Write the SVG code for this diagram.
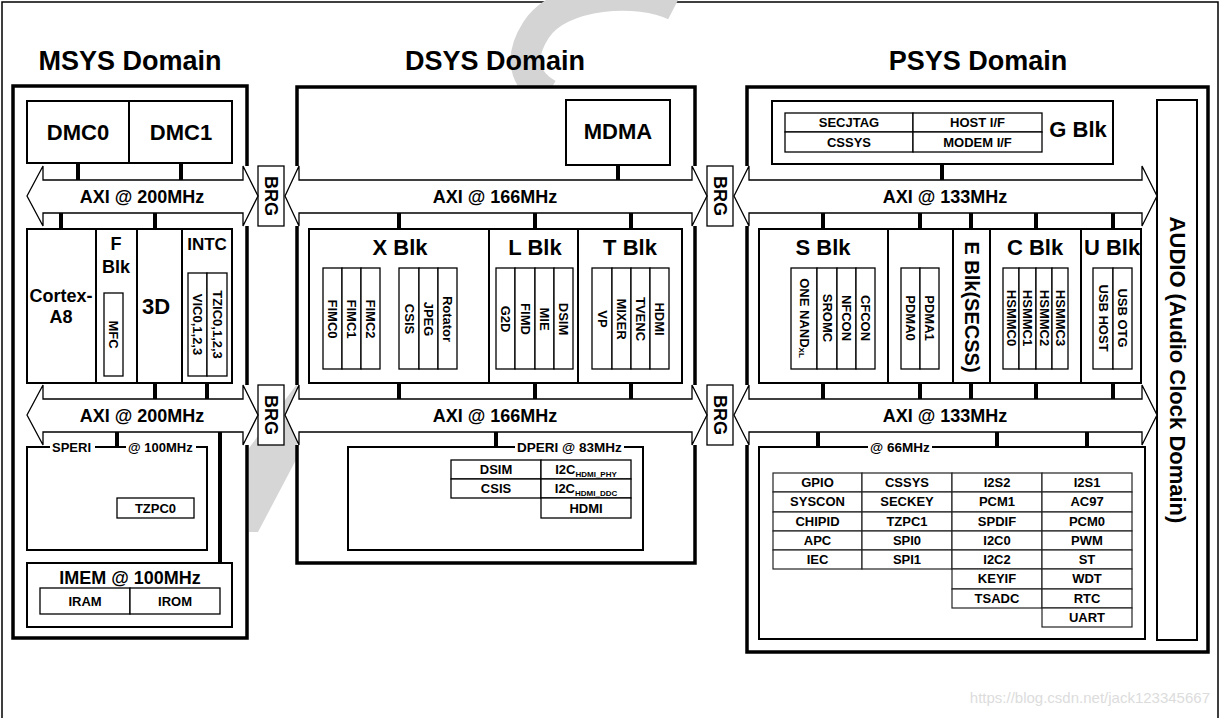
<svg xmlns="http://www.w3.org/2000/svg" width="1221" height="718" viewBox="0 0 1221 718">
<style>
.t{font-family:"Liberation Sans",Arial,sans-serif;font-weight:bold;fill:#000;text-anchor:middle}
.s27{font-size:27px}.s22{font-size:22px}.s20{font-size:20px}.s18{font-size:18px}.s17{font-size:17px}.s13{font-size:13px}.s135{font-size:13.5px}
.dom{fill:none;stroke:#000;stroke-width:3.5;stroke-linejoin:miter}
.domfill{fill:#fff;stroke:none}
.blk{fill:#fff;stroke:#000;stroke-width:2}
.sub{fill:#fff;stroke:#000;stroke-width:1.3}
.cell{fill:#fff;stroke:#222;stroke-width:1.2}
.bus{fill:#fff;stroke:#000;stroke-width:1.3;stroke-linejoin:miter}
.con{stroke:#000;stroke-width:4}
.lbl{text-anchor:start}
.gap{fill:#fff;stroke:none}
.v{dominant-baseline:central}
.wm{fill:#d6d6d6;stroke:none}
</style>
<rect x="0" y="0" width="1221" height="718" fill="#fff"/>
<!-- frame -->
<path d="M2,718 V2 H1218 V718" fill="none" stroke="#000" stroke-width="1.5"/>
<!-- watermark -->
<path d="M675,6 C640,-12 560,-8 536,30 C518,58 524,80 548,94" fill="none" stroke="#d4d4d4" stroke-width="30"/>
<polygon class="wm" points="249,448 297,384 297,458 258,532 249,532"/>
<text x="1210" y="703" font-family="Liberation Sans,Arial,sans-serif" font-size="15" fill="#dcdcdc" text-anchor="end">https://blog.csdn.net/jack123345667</text>

<!-- domain backgrounds -->
<rect class="domfill" x="13" y="86" width="234" height="552"/>
<rect class="domfill" x="297" y="87" width="398" height="476"/>
<rect class="domfill" x="747" y="87" width="461" height="565"/>

<!-- MSYS -->
<g id="msys">
<text class="t s27" x="130" y="70">MSYS Domain</text>
<path class="dom" d="M247,166 V86 H13 V638 H247 V445 M247,385 V226"/>
</g>
<g id="dmc">
<rect class="blk" x="27" y="101" width="205" height="62"/>
<line x1="129" y1="101" x2="129" y2="163" stroke="#000" stroke-width="2"/>
<text class="t s22" x="78" y="140">DMC0</text>
<text class="t s22" x="181" y="140">DMC1</text>
</g>
<g id="mcore">
<rect class="blk" x="27" y="229" width="205" height="154"/>
<path d="M96,229V383M137,229V383M182,229V383" stroke="#000" stroke-width="2"/>
<text class="t s18" x="61" y="302">Cortex-</text>
<text class="t s18" x="61" y="323">A8</text>
<text class="t s18" x="116" y="250">F</text>
<text class="t s18" x="116" y="273">Blk</text>
<rect class="sub" x="104" y="293" width="19" height="83"/>
<text class="t s13 v" transform="translate(113.5,334.5) rotate(90)">MFC</text>
<text class="t s22" x="156" y="314">3D</text>
<text class="t s17" x="207" y="250">INTC</text>
<rect class="sub" x="188" y="273" width="19" height="103"/>
<rect class="sub" x="207" y="273" width="20" height="103"/>
<text class="t s13 v" transform="translate(197.5,324.5) rotate(90)">VIC0,1,2,3</text>
<text class="t s13 v" transform="translate(217,324.5) rotate(90)">TZIC0,1,2,3</text>
</g>
<g id="speri">
<rect class="blk" x="27" y="447" width="180" height="103"/>
<rect class="gap" x="50" y="443" width="45" height="8"/>
<rect class="gap" x="126" y="443" width="70" height="8"/>
<text class="t s13 lbl" x="52" y="452">SPERI</text>
<text class="t s13 lbl" x="128" y="452">@ 100MHz</text>
<rect class="sub" x="117" y="498" width="77" height="20"/>
<text class="t s13" x="155.5" y="513">TZPC0</text>
</g>
<g id="imem">
<rect class="blk" x="27" y="563" width="205" height="64"/>
<text class="t s18" x="130" y="584">IMEM @ 100MHz</text>
<rect class="sub" x="40" y="588" width="90" height="26"/>
<rect class="sub" x="130" y="588" width="90" height="26"/>
<text class="t s13" x="85" y="606">IRAM</text>
<text class="t s13" x="175" y="606">IROM</text>
</g>

<!-- BRG -->
<g id="brg1"><rect class="sub" x="258" y="166" width="26" height="60"/><text class="t s18 v" transform="translate(271,196) rotate(90)">BRG</text></g>
<g id="brg2"><rect class="sub" x="258" y="385" width="26" height="60"/><text class="t s18 v" transform="translate(271,415) rotate(90)">BRG</text></g>
<g id="brg3"><rect class="sub" x="707" y="166" width="26" height="60"/><text class="t s18 v" transform="translate(720,196) rotate(90)">BRG</text></g>
<g id="brg4"><rect class="sub" x="707" y="385" width="26" height="60"/><text class="t s18 v" transform="translate(720,415) rotate(90)">BRG</text></g>

<!-- DSYS -->
<g id="dsys">
<text class="t s27" x="495" y="70">DSYS Domain</text>
<path class="dom" d="M297,166 V87 H695 V166 M695,226 V385 M695,445 V563 H297 V445 M297,385 V226"/>
</g>
<g id="mdma">
<rect class="blk" x="566" y="100" width="104" height="65"/>
<text class="t s22" x="618" y="139">MDMA</text>
</g>
<g id="xlt">
<rect class="blk" x="309" y="229" width="373" height="154"/>
<path d="M489,229V383M578,229V383" stroke="#000" stroke-width="2"/>
<text class="t s22" x="400" y="255">X Blk</text>
<text class="t s22" x="535" y="255">L Blk</text>
<text class="t s22" x="630" y="255">T Blk</text>
<rect class="sub" x="323" y="268" width="19" height="101"/>
<rect class="sub" x="342" y="268" width="19" height="101"/>
<rect class="sub" x="361" y="268" width="19" height="101"/>
<rect class="sub" x="399" y="268" width="20" height="101"/>
<rect class="sub" x="419" y="268" width="19" height="101"/>
<rect class="sub" x="438" y="268" width="19" height="101"/>
<rect class="sub" x="496" y="268" width="19" height="101"/>
<rect class="sub" x="515" y="268" width="20" height="101"/>
<rect class="sub" x="535" y="268" width="19" height="101"/>
<rect class="sub" x="554" y="268" width="19" height="101"/>
<rect class="sub" x="592" y="268" width="20" height="101"/>
<rect class="sub" x="612" y="268" width="19" height="101"/>
<rect class="sub" x="631" y="268" width="19" height="101"/>
<rect class="sub" x="650" y="268" width="19" height="101"/>
<g class="t s13">
<text class="v" transform="translate(332.5,319) rotate(90)">FIMC0</text>
<text class="v" transform="translate(351.5,319) rotate(90)">FIMC1</text>
<text class="v" transform="translate(370.5,319) rotate(90)">FIMC2</text>
<text class="v" transform="translate(409,319) rotate(90)">CSIS</text>
<text class="v" transform="translate(428.5,319) rotate(90)">JPEG</text>
<text class="v" transform="translate(447.5,319) rotate(90)">Rotator</text>
<text class="v" transform="translate(505.5,319) rotate(90)">G2D</text>
<text class="v" transform="translate(525,319) rotate(90)">FIMD</text>
<text class="v" transform="translate(544.5,319) rotate(90)">MIE</text>
<text class="v" transform="translate(563.5,319) rotate(90)">DSIM</text>
<text class="v" transform="translate(602,319) rotate(90)">VP</text>
<text class="v" transform="translate(621.5,319) rotate(90)">MIXER</text>
<text class="v" transform="translate(640.5,319) rotate(90)">TVENC</text>
<text class="v" transform="translate(659.5,319) rotate(90)">HDMI</text>
</g>
</g>
<g id="dperi">
<rect class="blk" x="348" y="447" width="295" height="103"/>
<rect class="gap" x="515" y="443" width="109" height="8"/>
<text class="t s135 lbl" x="517" y="452">DPERI @ 83MHz</text>
<rect class="sub" x="451" y="460" width="90" height="19"/>
<rect class="sub" x="451" y="479" width="90" height="19"/>
<rect class="sub" x="541" y="460" width="90" height="19"/>
<rect class="sub" x="541" y="479" width="90" height="19"/>
<rect class="sub" x="541" y="498" width="90" height="20"/>
<text class="t s13" x="496" y="474">DSIM</text>
<text class="t s13" x="496" y="493">CSIS</text>
<text class="t s13" x="586" y="474">I2C<tspan font-size="8" dy="3">HDMI_PHY</tspan></text>
<text class="t s13" x="586" y="493">I2C<tspan font-size="8" dy="3">HDMI_DDC</tspan></text>
<text class="t s13" x="586" y="513">HDMI</text>
</g>

<!-- PSYS -->
<g id="psys">
<text class="t s27" x="978" y="70">PSYS Domain</text>
<path class="dom" d="M747,166 V87 H1208 V652 H747 V445 M747,385 V226"/>
</g>
<g id="gblk">
<rect class="blk" x="772" y="101" width="341" height="63"/>
<rect class="sub" x="785" y="113" width="128" height="19"/>
<rect class="sub" x="913" y="113" width="129" height="19"/>
<rect class="sub" x="785" y="132" width="128" height="20"/>
<rect class="sub" x="913" y="132" width="129" height="20"/>
<text class="t s13" x="849" y="127">SECJTAG</text>
<text class="t s13" x="977.5" y="127">HOST I/F</text>
<text class="t s13" x="849" y="147">CSSYS</text>
<text class="t s13" x="977.5" y="147">MODEM I/F</text>
<text class="t s22" x="1078" y="137">G Blk</text>
</g>
<g id="audio">
<rect class="blk" x="1157" y="100" width="40" height="540"/>
<text class="t s22 v" transform="translate(1177,370) rotate(90)">AUDIO (Audio Clock Domain)</text>
</g>
<g id="secu">
<rect class="blk" x="759" y="229" width="382" height="154"/>
<path d="M888,229V383M953,229V383M990,229V383M1081,229V383" stroke="#000" stroke-width="2"/>
<text class="t s22" x="823" y="255">S Blk</text>
<text class="t s22" x="1035" y="255">C Blk</text>
<text class="t s22" x="1112" y="255">U Blk</text>
<text class="t s20 v" transform="translate(972,307) rotate(90)">E Blk(SECSS)</text>
<rect class="sub" x="791" y="268" width="26" height="101"/>
<rect class="sub" x="817" y="268" width="20" height="101"/>
<rect class="sub" x="837" y="268" width="19" height="101"/>
<rect class="sub" x="856" y="268" width="19" height="101"/>
<rect class="sub" x="901" y="268" width="19" height="101"/>
<rect class="sub" x="920" y="268" width="19" height="101"/>
<rect class="sub" x="1003" y="268" width="16" height="101"/>
<rect class="sub" x="1019" y="268" width="17" height="101"/>
<rect class="sub" x="1036" y="268" width="16" height="101"/>
<rect class="sub" x="1052" y="268" width="16" height="101"/>
<rect class="sub" x="1093" y="268" width="20" height="101"/>
<rect class="sub" x="1113" y="268" width="19" height="101"/>
<g class="t s13">
<text class="v" transform="translate(804,318) rotate(90)">ONE NAND<tspan font-size="8" dy="2">XL</tspan></text>
<text class="v" transform="translate(827,318) rotate(90)">SROMC</text>
<text class="v" transform="translate(846.5,318) rotate(90)">NFCON</text>
<text class="v" transform="translate(865.5,318) rotate(90)">CFCON</text>
<text class="v" transform="translate(910.5,318) rotate(90)">PDMA0</text>
<text class="v" transform="translate(929.5,318) rotate(90)">PDMA1</text>
<text class="v" transform="translate(1011,318) rotate(90)">HSMMC0</text>
<text class="v" transform="translate(1027.5,318) rotate(90)">HSMMC1</text>
<text class="v" transform="translate(1044,318) rotate(90)">HSMMC2</text>
<text class="v" transform="translate(1060,318) rotate(90)">HSMMC3</text>
<text class="v" transform="translate(1103,318) rotate(90)">USB HOST</text>
<text class="v" transform="translate(1122.5,318) rotate(90)">USB OTG</text>
</g>
</g>
<g id="pperi">
<rect class="blk" x="759" y="447" width="386" height="192"/>
<rect class="gap" x="868" y="443" width="64" height="8"/>
<text class="t s135 lbl" x="870" y="452">@ 66MHz</text>
<g>
<rect class="cell" x="773" y="473" width="89" height="19"/><rect class="cell" x="773" y="492" width="89" height="20"/><rect class="cell" x="773" y="512" width="89" height="19"/><rect class="cell" x="773" y="531" width="89" height="19"/><rect class="cell" x="773" y="550" width="89" height="19"/>
<rect class="cell" x="862" y="473" width="90" height="19"/><rect class="cell" x="862" y="492" width="90" height="20"/><rect class="cell" x="862" y="512" width="90" height="19"/><rect class="cell" x="862" y="531" width="90" height="19"/><rect class="cell" x="862" y="550" width="90" height="19"/>
<rect class="cell" x="952" y="473" width="90" height="19"/><rect class="cell" x="952" y="492" width="90" height="20"/><rect class="cell" x="952" y="512" width="90" height="19"/><rect class="cell" x="952" y="531" width="90" height="19"/><rect class="cell" x="952" y="550" width="90" height="19"/><rect class="cell" x="952" y="569" width="90" height="20"/><rect class="cell" x="952" y="589" width="90" height="19"/>
<rect class="cell" x="1042" y="473" width="90" height="19"/><rect class="cell" x="1042" y="492" width="90" height="20"/><rect class="cell" x="1042" y="512" width="90" height="19"/><rect class="cell" x="1042" y="531" width="90" height="19"/><rect class="cell" x="1042" y="550" width="90" height="19"/><rect class="cell" x="1042" y="569" width="90" height="20"/><rect class="cell" x="1042" y="589" width="90" height="19"/><rect class="cell" x="1042" y="608" width="90" height="19"/>
</g>
<g class="t s13">
<text x="817.5" y="487">GPIO</text><text x="817.5" y="506">SYSCON</text><text x="817.5" y="526">CHIPID</text><text x="817.5" y="545">APC</text><text x="817.5" y="564">IEC</text>
<text x="907" y="487">CSSYS</text><text x="907" y="506">SECKEY</text><text x="907" y="526">TZPC1</text><text x="907" y="545">SPI0</text><text x="907" y="564">SPI1</text>
<text x="997" y="487">I2S2</text><text x="997" y="506">PCM1</text><text x="997" y="526">SPDIF</text><text x="997" y="545">I2C0</text><text x="997" y="564">I2C2</text><text x="997" y="583">KEYIF</text><text x="997" y="603">TSADC</text>
<text x="1087" y="487">I2S1</text><text x="1087" y="506">AC97</text><text x="1087" y="526">PCM0</text><text x="1087" y="545">PWM</text><text x="1087" y="564">ST</text><text x="1087" y="583">WDT</text><text x="1087" y="603">RTC</text><text x="1087" y="622">UART</text>
</g>
</g>

<!-- connectors -->
<g id="connectors">
<polygon class="bus" points="27,196 43,166 43,180 243,180 243,166 258,196 243,226 243,213 43,213 43,226"/>
<polygon class="bus" points="27,415 43,385 43,399 243,399 243,385 258,415 243,445 243,432 43,432 43,445"/>
<polygon class="bus" points="285,196 299,166 299,180 692,180 692,166 707,196 692,226 692,213 299,213 299,226"/>
<polygon class="bus" points="285,415 299,385 299,399 692,399 692,385 707,415 692,445 692,432 299,432 299,445"/>
<polygon class="bus" points="734,196 749,166 749,180 1142,180 1142,166 1157,196 1142,226 1142,213 749,213 749,226"/>
<polygon class="bus" points="734,415 749,385 749,399 1142,399 1142,385 1157,415 1142,445 1142,432 749,432 749,445"/>
<text class="t s18" x="142" y="203">AXI @ 200MHz</text>
<text class="t s18" x="142" y="422">AXI @ 200MHz</text>
<text class="t s18" x="495" y="203">AXI @ 166MHz</text>
<text class="t s18" x="495" y="422">AXI @ 166MHz</text>
<text class="t s18" x="945" y="203">AXI @ 133MHz</text>
<text class="t s18" x="945" y="422">AXI @ 133MHz</text>
<path class="con" d="M78,163V180M181,163V180M61,213V229M155,213V229M155,383V399M207,383V399M117,432V447M220,432V563
M618,165V180M399,213V229M535,213V229M631,213V229M399,383V399M535,383V399M631,383V399M496,432V447
M942,164V180M823,213V229M920,213V229M971,213V229M1036,213V229M1113,213V229M823,383V399M920,383V399M971,383V399M1036,383V399M1113,383V399M818,432V447M997,432V447M1087,432V447"/>
</g>
</svg>
